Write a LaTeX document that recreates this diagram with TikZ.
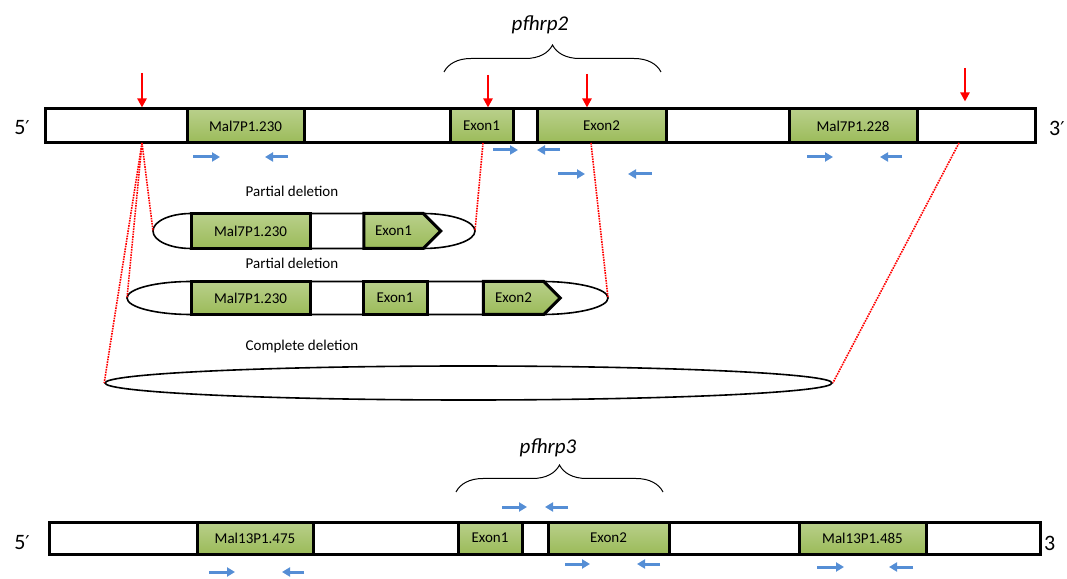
\documentclass[tikz,border=0pt]{standalone}
\usepackage{fontspec}
\setmainfont{Carlito}
\newfontfamily\primefont{DejaVu Sans}
\usepackage{tikz}
\usetikzlibrary{arrows.meta}
\usetikzlibrary{shapes.symbols}
\usetikzlibrary{shapes.geometric}
\usetikzlibrary{decorations.pathreplacing}
\usepackage{xcolor}
\definecolor{ColGene}{RGB}{155,187,89}
\definecolor{ColCut}{RGB}{255,0,0}
\definecolor{ColPrimer}{RGB}{85,142,213}
\tikzstyle{BarBox}=[rectangle,draw=black,fill=white,line width=3pt,minimum height=34pt,inner sep=0pt]
\tikzstyle{GeneBox}=[rectangle,draw=black,line width=3pt,top color=ColGene!70!white,bottom color=ColGene,
minimum height=34pt,inner sep=0pt,font=\fontsize{15}{18}\selectfont]
\tikzstyle{ExonTip}=[GeneBox,signal,signal to=east,signal pointer angle=90]
\tikzstyle{DelLoop}=[draw=black,line width=1.6pt]
\tikzstyle{CutArrow}=[ColCut,line width=2.5pt,-{Triangle[length=9pt,width=9pt]}]
\tikzstyle{CutEdge}=[ColCut,line width=1.6pt,densely dotted]
\tikzstyle{Primer}=[ColPrimer,line width=3pt,-{Triangle[length=8pt,width=9pt]}]
\tikzstyle{Brace}=[decorate,decoration={brace,amplitude=27pt},line width=1pt]
\tikzstyle{Label}=[inner sep=0pt,font=\fontsize{15}{18}\selectfont]
\tikzstyle{GeneName}=[inner sep=0pt,font=\fontsize{21}{24}\selectfont\itshape]
\tikzstyle{EndMark}=[inner sep=0pt,font=\fontsize{22}{26}\selectfont]
\newcommand{\pr}{{\primefont\fontsize{19}{22}\selectfont ′}}

\begin{document}
\begin{tikzpicture}[x=1pt,y=1pt]
        \useasboundingbox(0,0)rectangle(1067,578);
        % pfhrp2 locus
        \node[BarBox,minimum width=990pt](barA)at(540,452){};
        \node[GeneBox,minimum width=117pt](malA)at(245.5,452){Mal7P1.230};
        \node[GeneBox,minimum width=63pt](exA)at(481.5,452){Exon1};
        \node[GeneBox,minimum width=129pt](exB)at(601.5,452){Exon2};
        \node[GeneBox,minimum width=128pt](malB)at(853,452){Mal7P1.228};
        \node[EndMark](fiveA)at(22,450){5\pr};
        \node[EndMark,anchor=west](threeA)at(1049,450){3\pr};
        \draw[Brace](444,506)--(661,506);
        \node[GeneName](hrpA)at(540,553){pfhrp2};
        % breakpoints
        \coordinate(cutA)at(142,505);
        \coordinate(cutB)at(488,503);
        \coordinate(cutC)at(587,504);
        \coordinate(cutD)at(965,510);
        \foreach \c in {cutA,cutB,cutC}
            \draw[CutArrow](\c)--(\c|-barA.north);
        \draw[CutArrow](cutD)--([yshift=6pt]cutD|-barA.north);
        \coordinate(brkA)at(142,435);
        \coordinate(brkB)at(483,435);
        \coordinate(brkC)at(591,435);
        \coordinate(brkD)at(959,435);
        % partial deletion 1
        \draw[DelLoop](191,364.5)--(423,364.5)arc[start angle=90,end angle=-90,x radius=52,y radius=17.5]
            --(191,329.5)arc[start angle=270,end angle=90,x radius=38,y radius=17.5]--cycle;
        \coordinate(delAl)at(153,347);
        \coordinate(delAr)at(475,347);
        \node[GeneBox,minimum width=119pt,minimum height=35pt](malC)at(250.5,347){Mal7P1.230};
        \node[ExonTip,minimum width=77pt,minimum height=35pt](exC)at(393.5,347){Exon1};
        \node[Label](partA)at(292,387){Partial deletion};
        % partial deletion 2
        \draw[DelLoop](191,296.5)--(542,296.5)arc[start angle=90,end angle=-90,x radius=66,y radius=16.5]
            --(191,263.5)arc[start angle=270,end angle=90,x radius=64,y radius=16.5]--cycle;
        \coordinate(delBl)at(127,280);
        \coordinate(delBr)at(608,280);
        \node[GeneBox,minimum width=119pt,minimum height=33pt](malD)at(250.5,280){Mal7P1.230};
        \node[GeneBox,minimum width=64pt,minimum height=33pt](exD)at(395,280){Exon1};
        \node[ExonTip,minimum width=77pt,minimum height=33pt](exE)at(513.5,280){Exon2};
        \node[Label](partB)at(292,315){Partial deletion};
        % complete deletion
        \node[DelLoop,ellipse,inner sep=0pt,minimum width=727pt,minimum height=34pt](delC)at(468.5,195){};
        \node[Label](compA)at(302,231){Complete deletion};
        \draw[CutEdge](brkA)--(delAl);
        \draw[CutEdge](brkA)--(delBl);
        \draw[CutEdge](brkA)--(delC.west);
        \draw[CutEdge](brkB)--(delAr);
        \draw[CutEdge](brkC)--(delBr);
        \draw[CutEdge](brkD)--(delC.east);
        % pfhrp3 locus
        \node[BarBox,minimum width=991pt,minimum height=32pt](barB)at(544.5,40){};
        \node[GeneBox,minimum width=116pt,minimum height=32pt](malE)at(255,40){Mal13P1.475};
        \node[GeneBox,minimum width=64pt,minimum height=32pt](exF)at(490,40){Exon1};
        \node[GeneBox,minimum width=121pt,minimum height=32pt](exG)at(608.5,40){Exon2};
        \node[GeneBox,minimum width=127pt,minimum height=32pt](malF)at(862.5,40){Mal13P1.485};
        \node[EndMark](fiveB)at(22,35){5\pr};
        \node[EndMark,anchor=west](threeB)at(1044,35){3};
        \draw[Brace](456,86)--(663,86);
        \node[GeneName](hrpB)at(548,130){pfhrp3};
        % primers
        \foreach \xa/\xb/\yy in {193/220/421,288/265/421,493/518/428,560/537/428,
            558/585/404,652/628/404,807/833/421,902/880/421,
            502/527/71,568/545/71,565/590/14,660/637/14,
            209/235/6,304/282/6,817/844/11,913/889/11}
            \draw[Primer](\xa,\yy)--(\xb,\yy);
    \end{tikzpicture}
\end{document}
